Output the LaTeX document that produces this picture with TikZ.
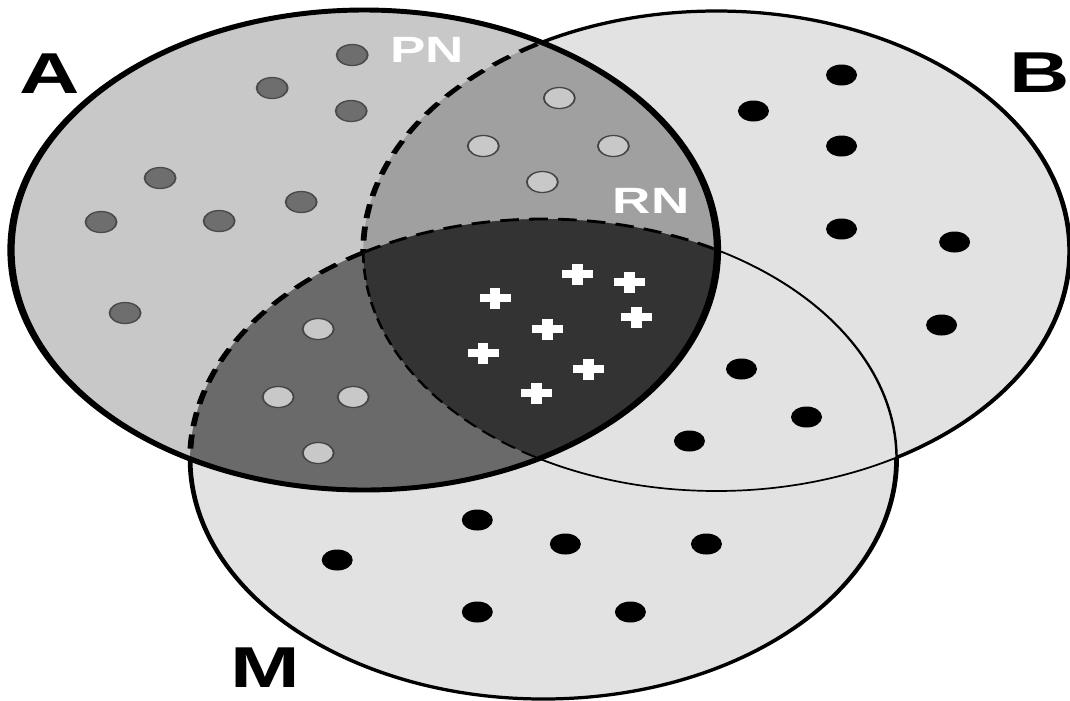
\documentclass[tikz,border=0pt]{standalone}
\usepackage{fontspec}
\setmainfont{Liberation Sans}
\usepackage{graphicx}
\definecolor{outerfill}{HTML}{E2E2E2}
\definecolor{afill}{HTML}{C8C8C8}
\definecolor{abfill}{HTML}{A0A0A0}
\definecolor{amfill}{HTML}{6A6A6A}
\definecolor{abmfill}{HTML}{333333}
\definecolor{darkdot}{HTML}{6E6E6E}
\definecolor{darkdotrim}{HTML}{4A4A4A}
\definecolor{lightdot}{HTML}{C8C8C8}
\definecolor{lightdotrim}{HTML}{454545}
\tikzset{
  % the three sets
  setA/.style={insert path={(364,250) ellipse [x radius=353, y radius=240]}},
  setB/.style={insert path={(716,251) ellipse [x radius=353, y radius=240]}},
  setM/.style={insert path={(543,459) ellipse [x radius=353, y radius=240]}},
  % complements (frame traced against the reversed ellipse)
  notA/.style={insert path={(-60,-60) -- (1130,-60) -- (1130,760) -- (-60,760) -- cycle
      (717,250) arc [start angle=0, end angle=-360, x radius=353, y radius=240]}},
  notB/.style={insert path={(-60,-60) -- (1130,-60) -- (1130,760) -- (-60,760) -- cycle
      (1069,251) arc [start angle=0, end angle=-360, x radius=353, y radius=240]}},
  notM/.style={insert path={(-60,-60) -- (1130,-60) -- (1130,760) -- (-60,760) -- cycle
      (896,459) arc [start angle=0, end angle=-360, x radius=353, y radius=240]}},
  boldline/.style={draw=black, line width=3.5pt},
  midline/.style={draw=black, line width=2.3pt},
  thinline/.style={draw=black, line width=1.2pt},
  thickdash/.style={draw=black, line width=2.8pt, dash pattern=on 10pt off 6pt},
  middash/.style={draw=black, line width=2.0pt, dash pattern=on 9pt off 5pt},
  thindash/.style={draw=black, line width=1.3pt, dash pattern=on 8pt off 4pt},
  darkpt/.style={fill=darkdot, draw=darkdotrim, line width=0.9pt},
  lightpt/.style={fill=lightdot, draw=lightdotrim, line width=0.9pt},
  blackpt/.style={fill=black},
  plussign/.style={draw=white, line width=5pt},
  setlabel/.style={inner sep=0pt, font=\bfseries\fontsize{41}{41}\selectfont},
  zonelabel/.style={inner sep=0pt, text=white, font=\bfseries\fontsize{26}{26}\selectfont},
}
\begin{document}
\begin{tikzpicture}[x=0.025cm, y=-0.025cm]
\useasboundingbox (0,0) rectangle (1070,700);
\fill[white] (0,0) rectangle (1070,700);

% the whole drawing is stretched sideways, strokes included
\begin{scope}[x=0.0170068cm, transform canvas={xscale=1.47}]

% region fills
\fill[outerfill, setB];
\fill[outerfill, setM];
\fill[afill, setA];
\begin{scope}
  \clip[setA];
  \fill[abfill, setB];
  \fill[amfill, setM];
  \clip[setB];
  \fill[abmfill, setM];
\end{scope}

% outline of B, piece by piece
\begin{scope}\clip[notA];\clip[notM];\path[midline, setB];\end{scope}
\begin{scope}\clip[notA];\clip[setM];\path[thinline, setB];\end{scope}
\begin{scope}\clip[setA];\clip[notM];\path[thickdash, setB];\end{scope}
\begin{scope}\clip[setA];\clip[setM];\path[thindash, setB];\end{scope}

% outline of M, piece by piece
\begin{scope}\clip[notA];\clip[notB];\path[midline, setM];\end{scope}
\begin{scope}\clip[notA];\clip[setB];\path[thinline, setM];\end{scope}
\begin{scope}\clip[setA];\clip[notB];\path[thickdash, setM];\end{scope}
\begin{scope}\clip[setA];\clip[setB];\path[middash, setM];\end{scope}

% outline of A
\path[boldline, setA];

% elements of A only
\foreach \p in {(352,55),(272,88),(351,111),(160,178),(101,222),(219,221),(301,202),(125,313)}
  \path[darkpt] \p ellipse [x radius=15.5, y radius=10.5];

% elements of A with B, and of A with M
\foreach \p in {(559,98),(483,146),(613,146),(542,182),(318,329),(278,397),(353,397),(318,453)}
  \path[lightpt] \p ellipse [x radius=15.5, y radius=10.5];

% elements of B and M outside A
\foreach \p in {(841,75),(753,111),(841,146),(841,229),(954,242),(941,325),(741,369),(806,417),
                (689,441),(477,520),(565,544),(337,560),(706,544),(477,612),(630,612)}
  \path[blackpt] \p ellipse [x radius=15.5, y radius=10.5];

% elements common to all three sets
\foreach \x/\y in {577/274,629/282,495/298,636/317,547/329,483/353,588/369,536/393}
  \draw[plussign] (\x-15.5,\y) -- (\x+15.5,\y) (\x,\y-10.5) -- (\x,\y+10.5);

\end{scope}

% labels
\node[setlabel] (labA) at (50,74) {\scalebox{1.45}[1]{A}};
\node[setlabel] (labB) at (1040,73) {\scalebox{1.45}[1]{B}};
\node[setlabel] (labM) at (265,668) {\scalebox{1.45}[1]{M}};
\node[zonelabel] (labPN) at (427,50) {\scalebox{1.45}[1]{PN}};
\node[zonelabel] (labRN) at (651,201) {\scalebox{1.45}[1]{RN}};
\end{tikzpicture}
\end{document}
